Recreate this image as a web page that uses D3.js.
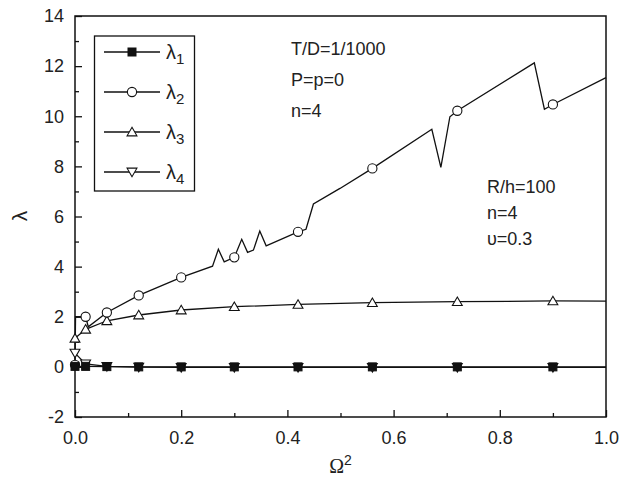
<!DOCTYPE html>
<html>
<head>
<meta charset="utf-8">
<script src="https://cdn.jsdelivr.net/npm/d3@7"></script>
<style>
  body { margin: 0; background: #fff; }
  svg { font-family: Arial, "Liberation Sans", sans-serif; }
</style>
</head>
<body>
<svg width="625" height="479"></svg>
<script>
// values
const xVals = [0, 0.02, 0.06, 0.12, 0.2, 0.3, 0.42, 0.56, 0.72, 0.9, 1.0];
const markerX = [0, 0.02, 0.06, 0.12, 0.2, 0.3, 0.42, 0.56, 0.72, 0.9];
const lambda1 = [0.02, 0.02, 0.01, 0, 0, 0, 0, 0, 0, 0, 0];
const lambda3 = [1.14, 1.5, 1.84, 2.07, 2.27, 2.4, 2.49, 2.56, 2.6, 2.63, 2.62];
const lambda4 = [0.55, 0.12, 0.02, -0.01, -0.02, -0.02, -0.02, -0.02, -0.02, -0.02, -0.02];
const lambda2X = [0, 0.001, 0.02, 0.025, 0.06, 0.12, 0.2, 0.259, 0.270, 0.281, 0.3, 0.314, 0.325,
  0.336, 0.348, 0.360, 0.42, 0.435, 0.449, 0.499, 0.56, 0.672, 0.689, 0.706, 0.72, 0.865, 0.884, 0.9, 1.0];
const lambda2 = [0.08, 2.0, 2.0, 1.6, 2.17, 2.85, 3.57, 4.02, 4.69, 4.19, 4.37, 5.09, 4.57,
  4.66, 5.42, 4.83, 5.39, 5.49, 6.5, 7.12, 7.92, 9.48, 7.96, 9.98, 10.22, 12.13, 10.28, 10.47, 11.54];
const xTicks = [0, 0.2, 0.4, 0.6, 0.8, 1.0];
const yTicks = [-2, 0, 2, 4, 6, 8, 10, 12, 14];
const notes1 = ['T/D=1/1000', 'P=p=0', 'n=4'];
const notes2 = ['R/h=100', 'n=4', 'υ=0.3'];

const svg = d3.select('svg');
const m = { left: 75, right: 606, top: 16, bottom: 417 };

const x = d3.scaleLinear().domain([0, 1]).range([m.left, m.right]);
const y = d3.scaleLinear().domain([-2, 14]).range([m.bottom, m.top]);

// minor ticks
svg.append('g')
  .attr('transform', `translate(0,${m.bottom})`)
  .call(d3.axisBottom(x).tickValues(d3.range(0.1, 1, 0.2)).tickSize(-4).tickFormat(''))
  .call((g) => g.select('.domain').remove());
svg.append('g')
  .attr('transform', `translate(${m.left},0)`)
  .call(d3.axisLeft(y).tickValues(d3.range(-1, 14, 2)).tickSize(-4).tickFormat(''))
  .call((g) => g.select('.domain').remove());

// major ticks + labels
let xAxis = svg.append('g')
  .attr('transform', `translate(0,${m.bottom})`)
  .call(d3.axisBottom(x).tickValues(xTicks).tickSize(-7).tickPadding(14).tickFormat((d) => d.toFixed(1)));
let yAxis = svg.append('g')
  .attr('transform', `translate(${m.left},0)`)
  .call(d3.axisLeft(y).tickValues(yTicks).tickSize(-7).tickPadding(11).tickFormat((d) => String(d)));
[xAxis, yAxis].forEach((g) => {
  g.select('.domain').remove();
  g.selectAll('text').attr('font-size', 18).attr('fill', '#222');
});
svg.selectAll('.tick line').attr('stroke', '#111').attr('stroke-width', 1.3);

// frame
svg.append('rect')
  .attr('x', m.left).attr('y', m.top)
  .attr('width', m.right - m.left).attr('height', m.bottom - m.top)
  .attr('fill', 'none').attr('stroke', '#111').attr('stroke-width', 1.5);

// axis titles
let xt = svg.append('text')
  .attr('x', (m.left + m.right) / 2).attr('y', 473)
  .attr('text-anchor', 'middle').attr('font-size', 20).attr('fill', '#222')
  .attr('font-family', '"Liberation Serif", serif');
xt.append('tspan').text('Ω');
xt.append('tspan').attr('dy', -8).attr('font-size', 14)
  .attr('font-family', 'Arial, "Liberation Sans", sans-serif').text('2');

svg.append('text')
  .attr('transform', 'translate(27,216) rotate(-90)')
  .attr('text-anchor', 'middle').attr('font-size', 21).attr('fill', '#222')
  .text('λ');

// series
const series = [
  { xs: xVals, ys: lambda1, mark: 'square' },
  { xs: lambda2X, ys: lambda2, mark: 'circle' },
  { xs: xVals, ys: lambda3, mark: 'triangle' },
  { xs: xVals, ys: lambda4, mark: 'down' }
];

const line = d3.line().x((d) => x(d[0])).y((d) => y(d[1]));

function drawMarker(g, type, cx, cy) {
  if (type === 'square') {
    g.append('rect').attr('x', cx - 4).attr('y', cy - 4).attr('width', 8).attr('height', 8)
      .attr('fill', '#111').attr('stroke', '#111');
  } else if (type === 'circle') {
    g.append('circle').attr('cx', cx).attr('cy', cy).attr('r', 4.6)
      .attr('fill', '#fff').attr('stroke', '#111').attr('stroke-width', 1.1);
  } else {
    let sym = d3.symbol().type(d3.symbolTriangle).size(42);
    g.append('path').attr('d', sym())
      .attr('transform', `translate(${cx},${cy + (type === 'down' ? -1 : 1)}) rotate(${type === 'down' ? 180 : 0})`)
      .attr('fill', '#fff').attr('stroke', '#111').attr('stroke-width', 1.1);
  }
}

series.forEach((s) => {
  let pts = s.xs.map((v, i) => [v, s.ys[i]]);
  svg.append('path')
    .attr('d', line(pts))
    .attr('fill', 'none').attr('stroke', '#111').attr('stroke-width', 1.3);
});
// draw λ4 markers first so the filled squares sit on top, as in the reference
[3, 2, 1, 0].forEach((k) => {
  let s = series[k];
  let g = svg.append('g');
  s.xs.forEach((v, i) => {
    if (markerX.includes(v)) drawMarker(g, s.mark, x(v), y(s.ys[i]));
  });
});

// legend
const legend = svg.append('g');
legend.append('rect')
  .attr('x', 94.5).attr('y', 36).attr('width', 100).attr('height', 155)
  .attr('fill', '#fff').attr('stroke', '#111').attr('stroke-width', 1.3);
series.forEach((s, i) => {
  let ly = 52 + i * 40;
  legend.append('line').attr('x1', 104).attr('x2', 160).attr('y1', ly).attr('y2', ly)
    .attr('stroke', '#111').attr('stroke-width', 1.3);
  drawMarker(legend, s.mark, 132, ly);
  let t = legend.append('text').attr('x', 166).attr('y', ly + 7)
    .attr('font-size', 20).attr('fill', '#222');
  t.append('tspan').text('λ');
  t.append('tspan').attr('dy', 5).attr('font-size', 15).text(i + 1);
});

// annotations
notes1.forEach((t, i) => {
  svg.append('text').attr('x', 291).attr('y', 55 + i * 31)
    .attr('font-size', 18).attr('fill', '#222').text(t);
});
notes2.forEach((t, i) => {
  svg.append('text').attr('x', 487).attr('y', 193 + i * 26)
    .attr('font-size', 18).attr('fill', '#222').text(t);
});
</script>
</body>
</html>
